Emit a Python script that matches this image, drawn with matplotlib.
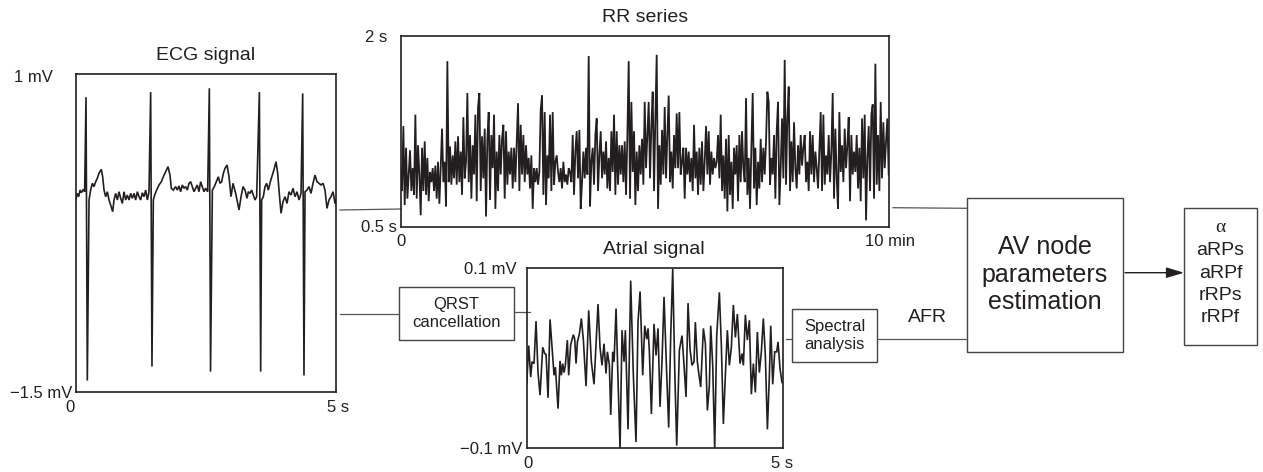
import numpy as np
import matplotlib
matplotlib.use('Agg')
import matplotlib.pyplot as plt
from matplotlib.patches import Rectangle

plt.rcParams['font.family'] = ['Liberation Sans', 'DejaVu Sans']

### signal values

# ECG signal, time in s and amplitude in mV
ecg_t = [0.000, 0.031, 0.057, 0.083, 0.108, 0.147, 0.172, 0.198, 0.223, 0.256,
         0.287, 0.320, 0.351, 0.384, 0.415, 0.447, 0.492, 0.518, 0.544, 0.576,
         0.608, 0.640, 0.672, 0.710, 0.736, 0.768, 0.800, 0.832, 0.864, 0.896,
         0.928, 0.960, 0.992, 1.024, 1.056, 1.088, 1.120, 1.152, 1.184, 1.216,
         1.248, 1.280, 1.312, 1.344, 1.376, 1.408, 1.440, 1.465, 1.491, 1.517,
         1.555, 1.600, 1.645, 1.683, 1.728, 1.773, 1.811, 1.837, 1.875, 1.920,
         1.952, 1.984, 2.016, 2.048, 2.080, 2.112, 2.144, 2.176, 2.208, 2.240,
         2.272, 2.304, 2.336, 2.368, 2.400, 2.432, 2.464, 2.496, 2.535, 2.567,
         2.590, 2.625, 2.663, 2.702, 2.740, 2.772, 2.804, 2.836, 2.868, 2.907,
         2.945, 2.983, 3.022, 3.047, 3.073, 3.099, 3.137, 3.176, 3.214, 3.252,
         3.291, 3.316, 3.348, 3.380, 3.412, 3.444, 3.476, 3.528, 3.553, 3.572,
         3.604, 3.636, 3.668, 3.700, 3.739, 3.777, 3.816, 3.848, 3.880, 3.905,
         3.944, 3.982, 4.021, 4.059, 4.097, 4.136, 4.174, 4.213, 4.251, 4.290,
         4.328, 4.360, 4.385, 4.405, 4.443, 4.482, 4.520, 4.558, 4.597, 4.635,
         4.674, 4.712, 4.751, 4.789, 4.827, 4.866, 4.904, 4.943, 4.981, 5.000]
ecg_mv = [0.011, 0.063, 0.037, 0.089, 0.068, 0.095, 0.076, 0.82, -1.41, 0.011,
          0.089, 0.142, 0.116, 0.155, 0.181, 0.221, 0.252, 0.194, 0.089, 0.037,
          0.076, 0.011, -0.029, -0.081, 0.011, 0.063, 0.011, 0.076, 0.024, -0.016,
          0.076, 0.011, 0.050, 0.011, 0.063, 0.024, 0.063, 0.011, 0.076, 0.037,
          0.011, 0.068, 0.037, 0.089, 0.011, 0.076, 0.86, -1.30, 0.011, 0.050,
          0.089, 0.129, 0.155, 0.194, 0.234, 0.273, 0.207, 0.103, 0.089, 0.116,
          0.089, 0.121, 0.076, 0.129, 0.103, 0.116, 0.089, 0.142, 0.155, 0.116,
          0.076, 0.103, 0.129, 0.076, 0.155, 0.116, 0.076, 0.103, 0.076, 0.89,
          -1.34, 0.089, 0.116, 0.155, 0.194, 0.142, 0.155, 0.221, 0.260, 0.286,
          0.194, 0.037, 0.142, 0.103, 0.063, 0.011, -0.068, 0.037, 0.116, 0.089,
          0.024, 0.076, 0.063, 0.089, 0.050, 0.011, 0.037, 0.86, -1.34, 0.011,
          0.037, 0.116, 0.142, 0.089, 0.155, 0.207, 0.260, 0.312, 0.221, 0.089,
          -0.094, -0.002, 0.037, -0.016, 0.076, 0.050, 0.103, 0.037, 0.076, 0.011,
          0.063, 0.85, -1.37, 0.076, 0.089, 0.116, 0.063, 0.142, 0.207, 0.155,
          0.142, 0.129, 0.142, 0.089, -0.055, 0.011, 0.037, 0.076, -0.016, 0.011]

# RR series in s, beats spread evenly over 10 min
rr_s = [0.96, 0.78, 1.29, 0.67, 1.12, 0.72, 0.91, 1.10, 0.78, 0.96,
        0.75, 1.38, 0.72, 1.14, 0.91, 0.59, 1.12, 0.78, 1.17, 0.75,
        1.04, 0.70, 0.93, 0.85, 0.96, 0.78, 0.98, 0.72, 1.01, 0.68,
        0.96, 1.27, 0.85, 1.01, 0.66, 1.80, 0.85, 1.13, 0.83, 1.06,
        0.88, 1.17, 0.83, 1.21, 0.85, 1.09, 0.75, 1.36, 0.88, 1.01,
        1.55, 0.85, 1.22, 0.72, 1.14, 0.91, 1.38, 0.70, 1.44, 1.55,
        0.78, 1.21, 0.88, 1.27, 0.58, 1.19, 1.40, 0.71, 1.22, 0.96,
        1.38, 0.64, 1.09, 0.78, 1.22, 0.91, 1.19, 1.30, 0.72, 1.25,
        0.83, 1.09, 0.91, 1.12, 0.80, 1.12, 0.85, 1.17, 1.47, 0.78,
        1.30, 0.91, 1.22, 0.85, 1.14, 0.91, 1.04, 0.80, 1.06, 0.64,
        0.96, 0.85, 0.96, 0.83, 0.93, 1.42, 1.53, 0.75, 1.40, 0.67,
        1.06, 0.88, 1.38, 0.78, 1.40, 0.83, 1.01, 1.06, 0.93, 0.85,
        0.96, 0.80, 1.01, 0.85, 0.91, 0.83, 0.96, 0.93, 0.85, 1.22,
        0.75, 1.09, 1.25, 0.88, 1.26, 0.64, 0.85, 1.09, 0.88, 1.12,
        0.91, 1.84, 0.66, 1.01, 1.12, 0.83, 1.22, 1.35, 0.78, 1.06,
        1.25, 0.88, 1.09, 0.91, 1.17, 0.80, 1.04, 0.78, 1.25, 0.93,
        1.38, 0.75, 1.25, 0.83, 1.14, 0.91, 1.14, 0.85, 1.17, 0.75,
        1.22, 1.80, 0.72, 1.48, 0.93, 1.25, 0.67, 1.09, 0.78, 1.14,
        0.91, 1.19, 0.83, 1.48, 0.96,
        1.22, 1.48, 0.88, 1.30, 1.56, 0.78, 1.36, 1.85, 0.64, 1.14,
        0.83, 1.26, 0.91, 1.44, 0.88, 1.22, 1.53, 0.85, 1.09, 0.80,
        1.22, 0.96, 1.39, 0.96, 1.40, 0.91, 1.01, 1.12, 0.72, 1.12,
        0.91, 1.09, 0.85, 1.04, 0.78, 1.30, 0.88, 1.09, 0.75, 1.12,
        0.83, 1.17, 0.78, 1.01, 1.29, 0.91, 1.25, 0.83, 1.09, 0.91,
        1.04, 0.96, 1.01, 1.22, 0.88, 1.38, 0.78, 1.06, 0.72, 1.19,
        0.62, 1.22, 0.75, 1.01, 0.64, 1.12, 0.91, 1.14, 0.70, 1.22,
        0.85, 1.25, 0.96, 0.85, 1.51, 0.75, 1.04, 0.64, 1.12, 1.55,
        0.80, 1.12, 0.67, 1.01, 0.80, 1.19, 0.85, 1.12, 0.91, 1.17,
        1.56, 1.48, 0.83, 1.04, 0.91, 1.22, 0.72, 1.25, 1.48, 0.67,
        0.96, 1.35, 0.88, 1.81, 0.83, 1.35, 1.60, 0.78, 1.17, 0.85,
        1.32, 0.96, 0.80, 1.14, 0.91, 1.22, 0.98, 1.12, 1.22, 0.85,
        1.01, 0.78, 1.25, 0.91, 1.22, 0.85, 1.09, 0.96, 0.80, 1.09,
        1.40, 0.78, 1.38, 0.83, 1.06, 0.91, 1.22, 0.85, 1.09, 1.55,
        0.72, 1.27, 0.88, 0.64, 1.40, 0.93, 1.14, 0.85, 1.27, 0.96,
        1.14, 1.36, 0.70, 1.22, 0.91, 1.09, 0.93, 1.22, 0.80, 1.12,
        0.70, 1.35, 0.88, 1.38, 0.55, 1.04, 1.29, 0.78, 1.38, 1.46,
        0.72, 1.78, 0.83, 1.22, 0.78, 1.48, 0.88, 1.32, 0.96, 1.17,
        1.35, 0.91]

# atrial signal after QRST cancellation, time in s and amplitude in mV
atrial_t = [0.000, 0.039, 0.078, 0.104, 0.143, 0.182, 0.221, 0.260, 0.313, 0.352,
            0.378, 0.417, 0.456, 0.495, 0.534, 0.560, 0.612, 0.651, 0.677, 0.703,
            0.729, 0.755, 0.794, 0.820, 0.859, 0.911, 0.938, 0.964, 0.990, 1.029,
            1.068, 1.107, 1.159, 1.211, 1.263, 1.315, 1.354, 1.393, 1.432, 1.471,
            1.510, 1.549, 1.576, 1.615, 1.641, 1.680, 1.706, 1.745, 1.784, 1.823,
            1.862, 1.901, 1.927, 1.979, 2.031, 2.083, 2.135, 2.174, 2.214, 2.266,
            2.305, 2.344, 2.370, 2.396, 2.435, 2.487, 2.526, 2.565, 2.604, 2.643,
            2.682, 2.734, 2.773, 2.813, 2.852, 2.891, 2.930, 2.982, 3.034, 3.073,
            3.112, 3.151, 3.190, 3.229, 3.268, 3.294, 3.333, 3.359, 3.398, 3.451,
            3.490, 3.529, 3.568, 3.594, 3.633, 3.672, 3.711, 3.763, 3.802, 3.841,
            3.880, 3.919, 3.958, 3.997, 4.036, 4.076, 4.115, 4.167, 4.206, 4.232,
            4.271, 4.310, 4.349, 4.388, 4.427, 4.466, 4.505, 4.544, 4.583, 4.622,
            4.661, 4.701, 4.740, 4.766, 4.805, 4.844, 4.883, 4.909, 4.948, 4.987]
atrial_mv = [-0.029, 0.014, -0.021, -0.004, -0.006, 0.041, -0.016, -0.041, 0.012, 0.005,
             0.004, -0.044, 0.043, 0.012, -0.019, -0.010, -0.056, -0.003, -0.019, -0.006,
             -0.016, -0.008, 0.020, -0.019, 0.015, 0.026, 0.021, -0.006, 0.018, 0.027,
             0.044, 0.020, -0.031, 0.053, -0.004, -0.029, 0.016, 0.060, 0.012, -0.008,
             0.016, -0.017, 0.007, -0.008, -0.063, 0.007, -0.004, 0.055, -0.025, -0.100,
             0.031, -0.004, 0.031, -0.079, 0.086, -0.019, -0.093, 0.040, 0.074, -0.019,
             0.036, 0.021, 0.033, 0.007, -0.062, 0.038, 0.003, 0.033, -0.054, -0.003,
             0.068, -0.017, -0.077, 0.025, 0.099, -0.012, -0.097, 0.009, 0.025, -0.008,
             -0.043, 0.061, 0.010, -0.008, -0.004, 0.040, -0.004, -0.016, -0.032, 0.033,
             0.016, -0.058, -0.030, 0.036, -0.008, -0.100, 0.025, 0.073, 0.014, -0.073,
             -0.019, 0.031, -0.008, 0.012, 0.059, 0.023, 0.049, -0.006, 0.005, -0.008,
             0.048, 0.020, 0.042, -0.040, -0.006, -0.038, 0.029, -0.016, 0.007, 0.044,
             0.003, -0.079, -0.019, 0.036, -0.029, 0.007, 0.007, 0.018, -0.012, -0.027]

av_params = ['\u03b1', 'aRPs', 'aRPf', 'rRPs', 'rRPf']

### layout (pixels of the 1263 x 472 picture)
W, H = 1263, 472
INK = '#231f20'
WIRE = '#555555'

fig = plt.figure(figsize=(W / 100, H / 100), dpi=100)

# full size overlay for boxes, wires and labels, y goes down like in the picture
ov = fig.add_axes([0, 0, 1, 1])
ov.set_xlim(0, W)
ov.set_ylim(H, 0)
ov.axis('off')


def signalPanel(x0, y0, x1, y1, t, v, xlim, ylim, lw=1.1):
    ax = fig.add_axes([x0 / W, 1 - y1 / H, (x1 - x0) / W, (y1 - y0) / H])
    ax.plot(t, v, color=INK, lw=lw, solid_joinstyle='miter')
    ax.set_xlim(xlim)
    ax.set_ylim(ylim)
    ax.set_xticks([])
    ax.set_yticks([])
    ax.patch.set_alpha(0)
    for sp in ax.spines.values():
        sp.set_linewidth(1.2)
        sp.set_color(INK)
    return ax


def label(x, y, s, size=12, ha='center', va='baseline', **kw):
    ov.text(x, y, s, fontsize=size, ha=ha, va=va, color=INK, **kw)


def box(x0, y0, x1, y1, text=None, size=12, spacing=1.25):
    ov.add_patch(Rectangle((x0, y0), x1 - x0, y1 - y0, fill=False,
                           ec='#444444', lw=1.0))
    if text:
        ov.text((x0 + x1) / 2, (y0 + y1) / 2, text, fontsize=size, ha='center',
                va='center', color=INK, linespacing=spacing)


def wire(x0, y0, x1, y1):
    ov.plot([x0, x1], [y0, y1], color=WIRE, lw=0.9)


# ECG panel
signalPanel(75.7, 74.3, 336, 392, ecg_t, ecg_mv, (0, 5), (-1.5, 1), lw=1.2)
label(206, 60.5, 'ECG signal', size=14)
label(53, 81.5, '1 mV', ha='right')
label(72, 398.5, '\u22121.5 mV', ha='right')
label(70.5, 411.5, '0')
label(338, 411.5, '5 s')

# RR series panel
rr_min = np.linspace(0, 10, len(rr_s))
signalPanel(400.7, 35.7, 888.7, 226.7, rr_min, rr_s, (0, 10), (0.5, 2), lw=1.3)
label(645, 21.5, 'RR series', size=14)
label(387, 42.5, '2 s', ha='right')
label(397, 232.5, '0.5 s', ha='right')
label(401, 246.5, '0')
label(890, 246, '10 min')

# atrial signal panel
signalPanel(526.7, 268, 782.7, 448.3, atrial_t, atrial_mv, (0, 5), (-0.1, 0.1), lw=1.2)
label(654, 254, 'Atrial signal', size=14)
label(517, 274.5, '0.1 mV', ha='right')
label(522, 454, '\u22120.1 mV', ha='right')
label(527.5, 467.5, '0')
label(782, 467.5, '5 s')

# processing blocks
box(399, 287, 514, 340, 'QRST\ncancellation')
box(792, 309, 877, 362, 'Spectral\nanalysis')
box(966.7, 198, 1122.7, 351.7, 'AV node\nparameters\nestimation', size=18, spacing=1.18)
box(1184, 207.7, 1257.3, 345)

# wires between blocks
wire(340, 210, 400.7, 209)
wire(340, 314, 399, 314)
wire(514, 312, 530, 312)
wire(786, 339, 792, 339)
wire(877, 339, 966.7, 339)
wire(893, 207.7, 966.7, 208.3)
label(927.5, 321.5, 'AFR', size=14)

ov.annotate('', xy=(1184, 272.7), xytext=(1125, 272.7),
            arrowprops=dict(arrowstyle='-|>,head_length=0.6,head_width=0.18',
                            color=INK, lw=1.0, mutation_scale=18,
                            shrinkA=0, shrinkB=0))

# estimated parameters
for i, p in enumerate(av_params):
    if i == 0:
        label(1220.5, 232, p, size=14, family=['Liberation Serif', 'DejaVu Serif'])
    else:
        label(1220.5, 233 + 22.3 * i, p, size=14)

fig.savefig('out.png', dpi=100)
